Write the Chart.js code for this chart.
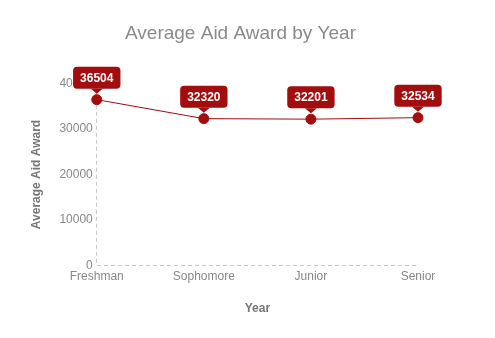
<!DOCTYPE html>
<html>
<head>
<meta charset="utf-8">
<script src="https://cdn.jsdelivr.net/npm/chart.js@4"></script>
<style>
  html, body { margin: 0; padding: 0; background: #fff; }
  #wrap { width: 495px; height: 338px; }
</style>
</head>
<body>
<div id="wrap"><canvas id="myChart" width="495" height="338"></canvas></div>
<script>
const years = ['Freshman', 'Sophomore', 'Junior', 'Senior'];
const avgAward = [36504, 32320, 32201, 32534];
const yTicks = [0, 10000, 20000, 30000, 40000];

const RED = '#a30d0d';
const FONT = '"Liberation Sans", Arial, sans-serif';
const AXIS = '#c8c8c8';

// callout boxes above each point
const calloutPlugin = {
    id: 'callouts',
    afterDatasetsDraw(chart) {
        const ctx = chart.ctx;
        const meta = chart.getDatasetMeta(0);
        ctx.save();
        ctx.font = 'bold 12px ' + FONT;
        meta.data.forEach((pt, i) => {
            const text = String(avgAward[i]);
            const w = ctx.measureText(text).width + 14;
            const h = 22;
            const tip = pt.y - 6;
            const bottom = tip - 5;
            const top = bottom - h;
            const left = pt.x - w / 2;
            ctx.fillStyle = RED;
            ctx.beginPath();
            ctx.roundRect(left, top, w, h, 4);
            ctx.fill();
            ctx.beginPath();
            ctx.moveTo(pt.x - 6, bottom);
            ctx.lineTo(pt.x + 6, bottom);
            ctx.lineTo(pt.x, tip);
            ctx.closePath();
            ctx.fill();
            ctx.fillStyle = '#fff';
            ctx.textAlign = 'center';
            ctx.textBaseline = 'middle';
            ctx.fillText(text, pt.x, top + h / 2 + 1);
        });
        ctx.restore();
    }
};

const ctx = document.getElementById('myChart').getContext('2d');
new Chart(ctx, {
    type: 'line',
    data: {
        labels: years,
        datasets: [{
            label: 'Average Aid Award',
            data: avgAward,
            borderColor: RED,
            backgroundColor: RED,
            borderWidth: 1,
            pointRadius: 5,
            pointBackgroundColor: RED,
            pointBorderColor: RED,
            tension: 0
        }]
    },
    options: {
        responsive: false,
        animation: false,
        layout: { padding: { top: 12, right: 39, bottom: 18, left: 25 } },
        plugins: {
            legend: { display: false },
            tooltip: { enabled: false },
            title: {
                display: true,
                text: 'Average Aid Award by Year',
                color: '#8a8a8a',
                font: { size: 19, weight: 'normal', family: FONT },
                padding: { top: 10, bottom: 39 }
            }
        },
        scales: {
            x: {
                offset: false,
                // only the first vertical grid line is shown: it is the dashed left axis
                grid: {
                    drawTicks: false,
                    color: c => (c.index === 0 ? AXIS : 'rgba(0,0,0,0)')
                },
                border: { display: false, dash: [4, 3] },
                ticks: { color: '#888', padding: 4, font: { size: 12, family: FONT } },
                title: {
                    display: true, text: 'Year', color: '#777',
                    font: { size: 12, weight: 'bold', family: FONT },
                    padding: { top: 14 }
                }
            },
            y: {
                min: 0,
                max: 40000,
                afterBuildTicks(scale) { scale.ticks = yTicks.map(v => ({ value: v })); },
                // only the zero line is shown: it is the dashed bottom axis
                grid: {
                    drawTicks: false,
                    color: c => (c.tick && c.tick.value === 0 ? AXIS : 'rgba(0,0,0,0)')
                },
                border: { display: false, dash: [4, 3] },
                ticks: {
                    color: '#888', padding: 4, font: { size: 12, family: FONT },
                    callback: v => String(v)
                },
                title: {
                    display: true, text: 'Average Aid Award', color: '#777',
                    font: { size: 12, weight: 'bold', family: FONT },
                    padding: { bottom: 12 }
                }
            },
            // empty right axis, keeps the plot narrower than the title band
            y2: {
                position: 'right',
                display: true,
                grid: { display: false, drawTicks: false },
                border: { display: false },
                ticks: { display: false },
                afterFit(scale) { scale.width = 38; }
            }
        }
    },
    plugins: [calloutPlugin]
});
</script>
</body>
</html>
